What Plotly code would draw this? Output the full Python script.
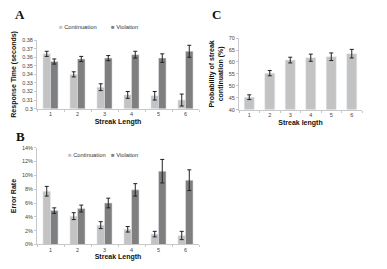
import plotly.graph_objects as go

W, H = 387, 269
def px(x): return x / W
def py(y): return 1 - y / H

streak = ["1", "2", "3", "4", "5", "6"]

# Panel A: response time (seconds)
rt_cont = [0.364, 0.340, 0.325, 0.316, 0.315, 0.310]
rt_cont_err = [0.003, 0.003, 0.004, 0.004, 0.005, 0.007]
rt_viol = [0.355, 0.358, 0.359, 0.363, 0.359, 0.367]
rt_viol_err = [0.003, 0.003, 0.003, 0.004, 0.005, 0.007]
rt_ticks = [0.30, 0.31, 0.32, 0.33, 0.34, 0.35, 0.36, 0.37, 0.38]
rt_ticktext = ["0.3", "0.31", "0.32", "0.33", "0.34", "0.35", "0.36", "0.37", "0.38"]

# Panel B: error rate (%)
er_cont = [7.7, 4.1, 2.8, 2.2, 1.5, 1.3]
er_cont_err = [0.7, 0.5, 0.5, 0.4, 0.4, 0.6]
er_viol = [4.9, 5.2, 6.0, 7.9, 10.6, 9.3]
er_viol_err = [0.4, 0.5, 0.7, 0.9, 1.7, 1.5]

# Panel C: probability of streak continuation (%)
pc = [45.2, 55.3, 60.8, 61.8, 62.2, 63.5]
pc_err = [1.0, 1.1, 1.2, 1.5, 1.6, 1.8]

LIGHT = "#c3c3c3"
DARK = "#7f7f7f"
AXC = "#c8c8c8"
FONT = "Liberation Sans"

def eb(arr):
    return dict(type="data", array=arr, color="#222", thickness=1, width=2)

fig = go.Figure()
BW = 0.28
fig.add_trace(go.Bar(x=streak, y=rt_cont, error_y=eb(rt_cont_err), marker_color=LIGHT,
                     width=BW, offset=-BW, xaxis="x", yaxis="y", name="Continuation", showlegend=False))
fig.add_trace(go.Bar(x=streak, y=rt_viol, error_y=eb(rt_viol_err), marker_color=DARK,
                     width=BW, offset=0, xaxis="x", yaxis="y", name="Violation", showlegend=False))
fig.add_trace(go.Bar(x=streak, y=er_cont, error_y=eb(er_cont_err), marker_color=LIGHT,
                     width=BW, offset=-BW, xaxis="x2", yaxis="y2", name="Continuation", showlegend=False))
fig.add_trace(go.Bar(x=streak, y=er_viol, error_y=eb(er_viol_err), marker_color=DARK,
                     width=BW, offset=0, xaxis="x2", yaxis="y2", name="Violation", showlegend=False))
fig.add_trace(go.Bar(x=streak, y=pc, error_y=eb(pc_err), marker_color=LIGHT,
                     width=0.49, xaxis="x3", yaxis="y3", name="Continuation probability", showlegend=False))

tickf = dict(family=FONT, size=5.5, color="#444")
titf = dict(family=FONT, size=7, color="#111")

def xax(domain, anchor, title):
    return dict(domain=domain, anchor=anchor, type="category", showline=True, linecolor=AXC,
                linewidth=1, ticks="outside", tickson="boundaries", ticklen=2, tickcolor=AXC,
                tickfont=tickf, showgrid=False, zeroline=False,
                title=dict(text="<b>" + title + "</b>", font=titf, standoff=2))

def yax(domain, anchor, rng, title, **kw):
    d = dict(domain=domain, anchor=anchor, range=rng, showline=True, linecolor=AXC, linewidth=1,
             ticks="outside", ticklen=2, tickcolor=AXC, tickfont=tickf, showgrid=False,
             zeroline=False, title=dict(text="<b>" + title + "</b>", font=titf, standoff=4))
    d.update(kw)
    return d

fig.update_layout(
    width=W, height=H, margin=dict(l=0, r=0, t=0, b=0),
    paper_bgcolor="white", plot_bgcolor="white", barmode="overlay",
    xaxis=xax([px(37), px(199)], "y", "Streak Length"),
    yaxis=yax([py(108), py(38)], "x", [0.3, 0.38], "Response Time (seconds)",
              tickvals=rt_ticks, ticktext=rt_ticktext),
    xaxis2=xax([px(37), px(199)], "y2", "Streak Length"),
    yaxis2=yax([py(247), py(148)], "x2", [0, 14], "Error Rate", dtick=2, ticksuffix="%"),
    xaxis3=xax([px(239), px(362)], "y3", "Streak length"),
    yaxis3=yax([py(109), py(36)], "x3", [40, 70], "Probability of streak<br>continuation (%)", dtick=5),
)

letf = dict(family="Liberation Serif", size=13, color="#111")
for t, x, y in [("A", 20, 12), ("B", 20, 137), ("C", 217, 12)]:
    fig.add_annotation(text="<b>" + t + "</b>", x=px(x), y=py(y), xref="paper", yref="paper",
                       showarrow=False, font=letf, xanchor="center", yanchor="middle")

legf = dict(family=FONT, size=5.8, color="#333")
def leg(text, color, x, y):
    fig.add_annotation(text=f"<span style='color:{color}'>■</span> {text}", x=px(x), y=py(y),
                       xref="paper", yref="paper", showarrow=False, font=legf,
                       xanchor="left", yanchor="middle")
leg("Continuation", LIGHT, 57, 25)
leg("Violation", DARK, 109, 25)
leg("Continuation", LIGHT, 66, 155)
leg("Violation", DARK, 109, 155)

fig.write_html("out.html")
